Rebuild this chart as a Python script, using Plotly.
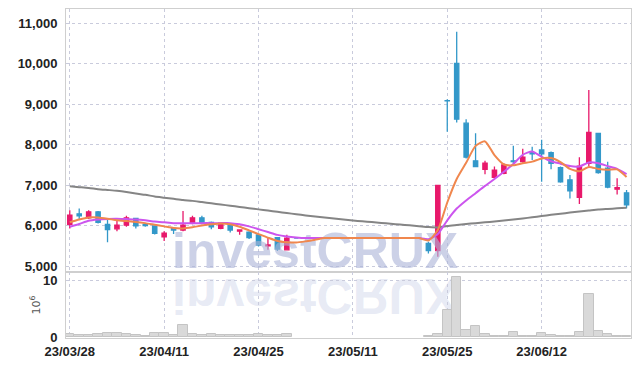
import plotly.graph_objects as go

dates = ["23/03/28","23/03/29","23/03/30","23/03/31","23/04/03","23/04/04","23/04/05","23/04/06","23/04/07","23/04/10",
         "23/04/11","23/04/12","23/04/13","23/04/14","23/04/17","23/04/18","23/04/19","23/04/20","23/04/21","23/04/24",
         "23/04/25","23/04/26","23/04/27","23/04/28","23/05/02","23/05/03","23/05/04","23/05/08","23/05/09","23/05/10",
         "23/05/11","23/05/12","23/05/15","23/05/16","23/05/17","23/05/18","23/05/19","23/05/22","23/05/23","23/05/24",
         "23/05/25","23/05/26","23/05/30","23/05/31","23/06/01","23/06/02","23/06/05","23/06/07","23/06/08","23/06/09",
         "23/06/12","23/06/13","23/06/14","23/06/15","23/06/16","23/06/19","23/06/20","23/06/21","23/06/22","23/06/23"]

opens = [6030, 6290, 6190, 6340, 6030, 5920, 6010, 6180, 6030, 5990,
         5720, 5930, 5890, 6060, 6190, 6080, 5930, 6030, 5860, 5840,
         5770, 5500, 5700, 5400, 5690, 5690, 5690, 5690, 5690, 5690,
         5690, 5690, 5690, 5690, 5690, 5690, 5690, 5690, 5560, 5380,
         9090, 10010, 8530, 7600, 7390, 7190, 7290, 7600, 7580, 7800,
         7870, 7800, 7430, 7130, 6700, 7540, 8280, 7420, 6900, 6810]
highs = [6380, 6420, 6380, 6360, 6180, 6140, 6240, 6190, 6050, 6010,
         5860, 5950, 6360, 6240, 6240, 6100, 6070, 6060, 5910, 5860,
         5790, 5690, 5720, 5770, 5690, 5690, 5690, 5690, 5690, 5690,
         5690, 5690, 5690, 5690, 5690, 5690, 5690, 5690, 5600, 6990,
         9120, 10790, 8630, 8280, 7600, 7460, 7540, 7970, 7900, 7950,
         8120, 7830, 7460, 7250, 7690, 9350, 8290, 7580, 7170, 6880]
lows = [5930, 6140, 6160, 6050, 5590, 5860, 5970, 5930, 5970, 5780,
        5620, 5790, 5860, 6030, 6030, 5910, 5910, 5830, 5770, 5670,
        5480, 5400, 5370, 5390, 5690, 5690, 5690, 5690, 5690, 5690,
        5690, 5690, 5690, 5690, 5690, 5690, 5690, 5690, 5310, 5230,
        8320, 8550, 7660, 7440, 7270, 7170, 7270, 7540, 7550, 7620,
        7080, 7390, 7060, 6670, 6530, 7470, 7280, 6920, 6770, 6430]
closes = [6260, 6240, 6340, 6080, 5900, 6010, 6190, 5990, 6000, 5810,
          5810, 5890, 6010, 6190, 6070, 5970, 6060, 5890, 5890, 5700,
          5520, 5520, 5420, 5690, 5690, 5690, 5690, 5690, 5690, 5690,
          5690, 5690, 5690, 5690, 5690, 5690, 5690, 5690, 5380, 6990,
          9080, 8630, 7690, 7460, 7540, 7370, 7500, 7580, 7690, 7770,
          7770, 7540, 7080, 6860, 7470, 8300, 7310, 6950, 6940, 6510]
# volume in millions of shares (None = trading halted)
volumes = [0.6, 0.35, 0.5, 0.65, 0.85, 0.85, 0.65, 0.45, 0.2, 0.7,
           0.7, 0.5, 2.1, 0.65, 0.35, 0.65, 0.5, 0.5, 0.5, 0.5,
           0.65, 0.5, 0.5, 0.65, None, None, None, None, None, None,
           None, None, None, None, None, None, None, None, 0.18, 0.64,
           4.7, 10.6, 1.35, 2.05, 0.53, 0.29, 0.29, 1.0, 0.29, 0.29,
           0.82, 0.35, 0.18, 0.18, 1.0, 7.5, 1.17, 0.53, 0.29, 0.29]
ma5 = [6080, 6150, 6200, 6200, 6170, 6130, 6110, 6090, 6060, 6020,
       5980, 5940, 5930, 5960, 6000, 6030, 6050, 6030, 5970, 5880,
       5790, 5700, 5620, 5590, 5580, 5610, 5650, 5690, 5690, 5690,
       5690, 5690, 5690, 5690, 5690, 5690, 5690, 5690, 5630, 5890,
       6570, 7150, 7550, 7970, 8080, 7740, 7510, 7490, 7540, 7580,
       7660, 7670, 7570, 7400, 7340, 7450, 7400, 7380, 7390, 7200]
ma10 = [5970, 6040, 6120, 6150, 6165, 6170, 6160, 6150, 6130, 6100,
        6080, 6060, 6055, 6055, 6060, 6060, 6060, 6060, 6030, 5980,
        5910, 5840, 5770, 5730, 5705, 5690, 5690, 5690, 5690, 5690,
        5690, 5690, 5690, 5690, 5690, 5690, 5690, 5690, 5660, 5790,
        6130, 6420, 6620, 6800, 6980, 7150, 7330, 7520, 7750, 7830,
        7700, 7590, 7530, 7470, 7460, 7560, 7540, 7470, 7400, 7270]
ma60 = [6970, 6950, 6930, 6900, 6880, 6860, 6830, 6790, 6760, 6720,
        6690, 6660, 6630, 6610, 6580, 6550, 6520, 6490, 6460, 6430,
        6400, 6370, 6340, 6310, 6280, 6250, 6225, 6200, 6175, 6150,
        6125, 6105, 6085, 6065, 6045, 6025, 6005, 5985, 5965, 5955,
        5990, 6015, 6040, 6060, 6080, 6100, 6125, 6150, 6175, 6205,
        6235, 6265, 6290, 6320, 6345, 6370, 6395, 6410, 6425, 6440]
price_ticks = [5000, 6000, 7000, 8000, 9000, 10000, 11000]
volume_ticks = [0, 10]
watermark = "investCRUX"

RED = "#e8196b"
BLUE = "#3398c9"
GRID = "#c9cbdc"
AXIS = "#cfcfcf"
FONT = "Liberation Sans, Arial, sans-serif"

idx = list(range(len(dates)))
trade = [i for i in idx if volumes[i] is not None]
halt = [i for i in idx if volumes[i] is None]

fig = go.Figure()

# watermark (below data) and its reflection (flipped in the page script)
wm_font = dict(size=50, family="Liberation Sans, Arial, sans-serif", weight="bold")
fig.add_trace(go.Scatter(x=[26.0], y=[5255], mode="text", text=[watermark],
                         textfont=dict(color="rgba(172,181,216,0.62)", **wm_font),
                         textposition="middle center", cliponaxis=False, hoverinfo="skip", showlegend=False))
fig.add_trace(go.Scatter(x=[26.0], y=[5255], mode="text", text=[watermark],
                         textfont=dict(color="rgba(190,197,226,0.36)", **wm_font),
                         textposition="middle center", cliponaxis=False, hoverinfo="skip", showlegend=False))

fig.add_trace(go.Candlestick(
    x=trade, open=[opens[i] for i in trade], high=[highs[i] for i in trade],
    low=[lows[i] for i in trade], close=[closes[i] for i in trade],
    increasing=dict(line=dict(color=RED, width=1.3), fillcolor=RED),
    decreasing=dict(line=dict(color=BLUE, width=1.3), fillcolor=BLUE),
    whiskerwidth=0, showlegend=False, hoverinfo="skip"))
fig.add_trace(go.Candlestick(
    x=halt, open=[opens[i] for i in halt], high=[highs[i] for i in halt],
    low=[lows[i] for i in halt], close=[closes[i] for i in halt],
    increasing=dict(line=dict(color=BLUE, width=1.3), fillcolor=BLUE),
    decreasing=dict(line=dict(color=BLUE, width=1.3), fillcolor=BLUE),
    whiskerwidth=0, showlegend=False, hoverinfo="skip"))

fig.add_trace(go.Scatter(x=idx, y=ma60, mode="lines", line=dict(color="#858585", width=2, shape="spline", smoothing=0.6),
                         showlegend=False, hoverinfo="skip"))
fig.add_trace(go.Scatter(x=idx, y=ma10, mode="lines", line=dict(color="#cc55ee", width=2, shape="spline", smoothing=0.6),
                         showlegend=False, hoverinfo="skip"))
fig.add_trace(go.Scatter(x=idx, y=ma5, mode="lines", line=dict(color="#f0874e", width=2, shape="spline", smoothing=0.6),
                         showlegend=False, hoverinfo="skip"))

fig.add_trace(go.Bar(x=idx, y=volumes, xaxis="x2", yaxis="y2",
                     marker=dict(color="#d9d9d9", line=dict(color="#c4c4c4", width=1)),
                     showlegend=False, hoverinfo="skip"))

tickfont = dict(family=FONT, size=13, color="#222222", weight="bold")

fig.update_layout(
    width=639, height=366,
    margin=dict(l=66, r=8, t=9, b=28),
    paper_bgcolor="white", plot_bgcolor="rgba(0,0,0,0)",
    boxgap=0.35, bargap=0,
    xaxis=dict(domain=[0, 1], anchor="y", range=[-0.4, 59.47], showticklabels=False,
               tickvals=idx[::10], showgrid=True, gridcolor=GRID, griddash="dot", gridwidth=1,
               showline=True, linecolor=AXIS, linewidth=1, mirror=True, zeroline=False,
               rangeslider=dict(visible=False), automargin=False),
    xaxis2=dict(domain=[0, 1], anchor="y2", matches="x", range=[-0.4, 59.47],
                tickvals=idx[::10], ticktext=dates[::10], tickfont=tickfont,
                showgrid=True, gridcolor=GRID, griddash="dot", gridwidth=1,
                showline=True, linecolor=AXIS, linewidth=1, mirror=True, zeroline=False,
                ticks="", ticklabelstandoff=1, automargin=False),
    yaxis=dict(domain=[0.2006, 1], anchor="x", range=[4852, 11353], tickvals=price_ticks,
               tickformat=",d", tickfont=tickfont, showgrid=True, gridcolor=GRID, griddash="dot",
               showline=True, linecolor=AXIS, linewidth=1, mirror=True, zeroline=False,
               ticks="", ticklabelstandoff=5, automargin=False),
    yaxis2=dict(domain=[0, 0.2006], anchor="x2", range=[-0.1, 11.4], tickvals=volume_ticks,
                tickfont=tickfont, showgrid=True, gridcolor=GRID, griddash="dot",
                showline=True, linecolor=AXIS, linewidth=1, mirror=True, zeroline=False,
                ticks="", ticklabelstandoff=5, automargin=False,
                title=dict(text="10<sup>6</sup>", font=dict(family="DejaVu Sans, sans-serif", size=11, color="#555555"), standoff=0)),
)

post = """
document.body.style.margin = '0';
document.documentElement.style.overflow = 'hidden';
var gd = document.getElementById('{plot_id}');
var t = gd.querySelectorAll('g.textpoint');
if (t.length > 1) {
  var g = t[1];
  var bb = g.getBBox();
  var base = bb.y + bb.height * 0.81;
  g.setAttribute('transform', 'translate(0,' + (2 * base + 23) + ') scale(1,-1)');
}
"""

fig.write_html("out.html", post_script=post, config={"displayModeBar": False})
